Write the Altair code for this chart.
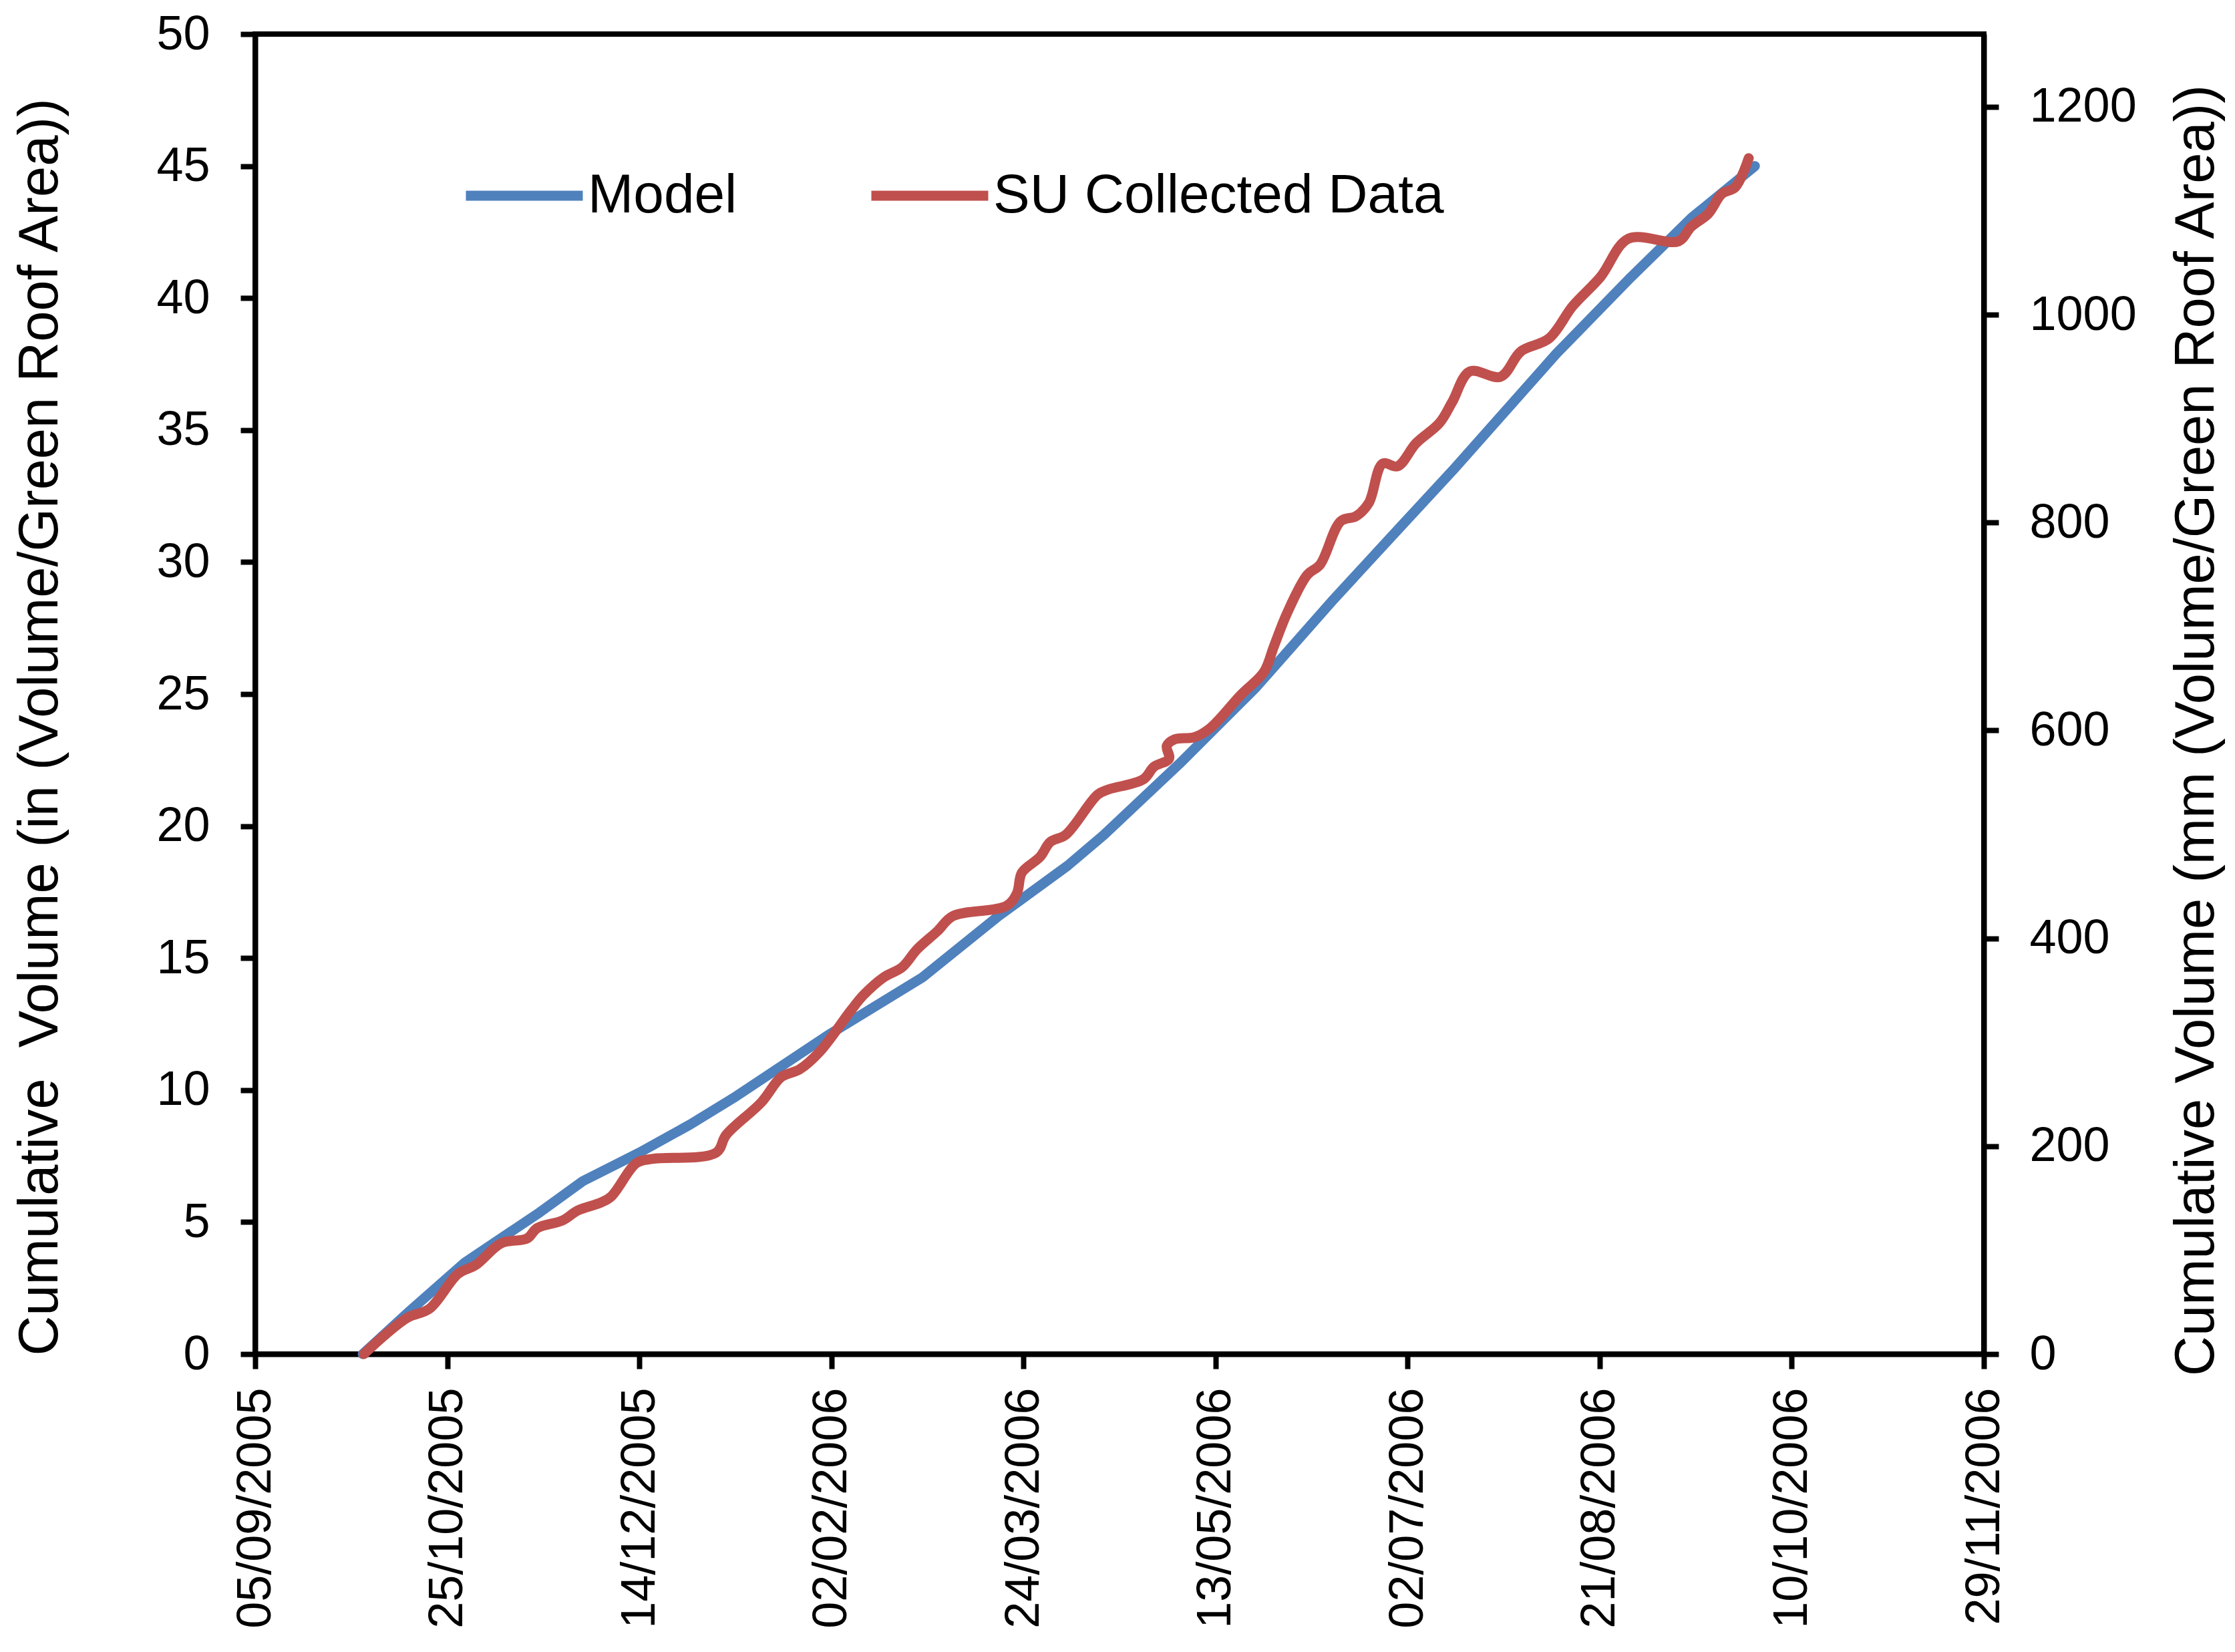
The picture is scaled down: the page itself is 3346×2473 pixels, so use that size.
import altair as alt
import pandas as pd

# ---- data ----
# x values are days since 05/09/2005 (the first x tick)
model_day = [28, 40, 54.6, 73.4, 85.3, 100, 113.3, 124.5, 149.7, 173.7, 193.6,
             211.5, 220.9, 240.6, 260.5, 280.5, 298.3, 312.1, 338.7, 358.2,
             374.0, 390.4]
model_in = [0.0, 1.6, 3.47, 5.3, 6.55, 7.63, 8.7, 9.7, 12.13, 14.27, 16.6,
            18.5, 19.66, 22.36, 25.25, 28.55, 31.36, 33.53, 37.89, 40.8,
            43.05, 45.0]

su_day = [28.3, 34, 39.8, 45.4, 52.8, 57.4, 64.1, 70.8, 73.4, 80, 84, 90, 92.7,
          99.3, 103.3, 120, 122.6, 131.8, 137, 141.7, 147, 155, 158.3, 163.6,
          168.4, 172.3, 177.6, 181.6, 195.6, 198.3, 199.6, 204.3, 207, 211,
          219.3, 222, 231.2, 234, 237.9, 237.3, 239.3, 244.6, 248.6, 256.6,
          262.6, 265.2, 268.6, 273.9, 277.2, 282.6, 286.6, 289.9, 293.5, 297.4,
          302.2, 308.3, 311.6, 316.2, 324.2, 329.5, 336.8, 343, 350.2, 357.5,
          370.5, 373.8, 378.3, 381.8, 385.3, 388.8]
su_in = [0.0, 0.75, 1.39, 1.72, 3.04, 3.37, 4.2, 4.38, 4.77, 5.06, 5.44, 5.74,
         5.97, 7.24, 7.39, 7.63, 8.3, 9.54, 10.5, 10.78, 11.46, 13.0, 13.59,
         14.27, 14.65, 15.33, 16.02, 16.59, 16.98, 17.46, 18.24, 18.83, 19.4,
         19.67, 21.19, 21.38, 21.77, 22.25, 22.55, 23.03, 23.28, 23.37, 23.71,
         24.97, 25.84, 26.81, 28.06, 29.52, 29.9, 31.55, 31.74, 32.24, 33.73,
         33.63, 34.5, 35.27, 36.06, 37.22, 37.02, 37.98, 38.47, 39.7, 40.8,
         42.25, 42.15, 42.7, 43.2, 43.95, 44.2, 45.3]

x_tick_days = [0, 50, 100, 150, 200, 250, 300, 350, 400, 450]
x_tick_labels = ["05/09/2005", "25/10/2005", "14/12/2005", "02/02/2006",
                 "24/03/2006", "13/05/2006", "02/07/2006", "21/08/2006",
                 "10/10/2006", "29/11/2006"]
y_left_ticks = [0, 5, 10, 15, 20, 25, 30, 35, 40, 45, 50]
y_right_ticks = [0, 200, 400, 600, 800, 1000, 1200]
series_names = ["Model", "SU Collected Data"]
series_colors = ["#4F81BD", "#C0504D"]
MM_PER_IN = 25.4

FONT = "Liberation Sans"
LINE_W = 15

model_df = pd.DataFrame({"day": model_day, "value": model_in,
                         "series": series_names[0], "idx": range(len(model_day))})
su_df = pd.DataFrame({"day": su_day, "value": su_in,
                      "series": series_names[1], "idx": range(len(su_day))})

label_expr = "[" + ",".join("'%s'" % s for s in x_tick_labels) + "][round(datum.value/50)]"

x_enc = alt.X("day:Q",
              scale=alt.Scale(domain=[0, 450], nice=False, zero=False),
              axis=alt.Axis(values=x_tick_days, labelExpr=label_expr,
                            labelAngle=270, labelPadding=28, title=None))

y_scale = alt.Scale(domain=[0, 50], nice=False)
y_axis = alt.Axis(values=y_left_ticks, format="d",
                  title="Cumulative \u00a0Volume (in (Volume/Green Roof Area))",
                  titleAngle=270, titleX=-322, titleY=1037,
                  titleBaseline="middle", titleAlign="center")

color_enc = alt.Color("series:N",
                      scale=alt.Scale(domain=series_names, range=series_colors),
                      legend=alt.Legend(title=None))

blue = alt.Chart(model_df).mark_line(
    strokeWidth=LINE_W, strokeCap="round", strokeJoin="round"
).encode(x=x_enc, y=alt.Y("value:Q", scale=y_scale, axis=y_axis),
         color=color_enc, order="idx:Q")

red = alt.Chart(su_df).mark_line(
    strokeWidth=LINE_W, strokeCap="round", strokeJoin="round", interpolate="catmull-rom"
).encode(x=x_enc, y=alt.Y("value:Q", scale=y_scale, axis=y_axis),
         color=color_enc, order="idx:Q")

mm_layer = alt.Chart(model_df).transform_calculate(
    mm="datum.value * %f" % MM_PER_IN
).mark_line(opacity=0).encode(
    x=x_enc,
    y=alt.Y("mm:Q", scale=alt.Scale(domain=[0, 50 * MM_PER_IN], nice=False),
            axis=alt.Axis(orient="right", values=y_right_ticks, format="d",
                          title="Cumulative Volume (mm (Volume/Green Roof Area))",
                          titleAngle=270, titleX=318, titleY=1042,
                          titleBaseline="middle", titleAlign="center")),
)

chart = alt.layer(alt.layer(blue, red), mm_layer).resolve_scale(
    y="independent"
).properties(
    width=2588, height=1976,
    autosize=alt.AutoSizeParams(type="none"),
    padding={"left": 374, "top": 43, "right": 364, "bottom": 420},
    background="white",
).configure_view(
    stroke="black", strokeWidth=8
).configure_axis(
    grid=False, domainColor="black", domainWidth=8,
    tickColor="black", tickWidth=8, tickSize=22,
    labelFont=FONT, labelFontSize=72, labelColor="black", labelPadding=46,
    labelLimit=1000, labelOverlap=False,
    titleFont=FONT, titleFontSize=83, titleFontWeight="normal", titleColor="black",
).configure_legend(
    orient="none", legendX=308, legendY=147, direction="horizontal",
    symbolType="stroke", symbolSize=30625, symbolStrokeWidth=LINE_W,
    labelFont=FONT, labelFontSize=82, labelColor="black", labelLimit=1000,
    columnPadding=170, labelOffset=0, padding=0,
)

chart.save("out.html", embed_options={"renderer": "svg", "actions": False})
